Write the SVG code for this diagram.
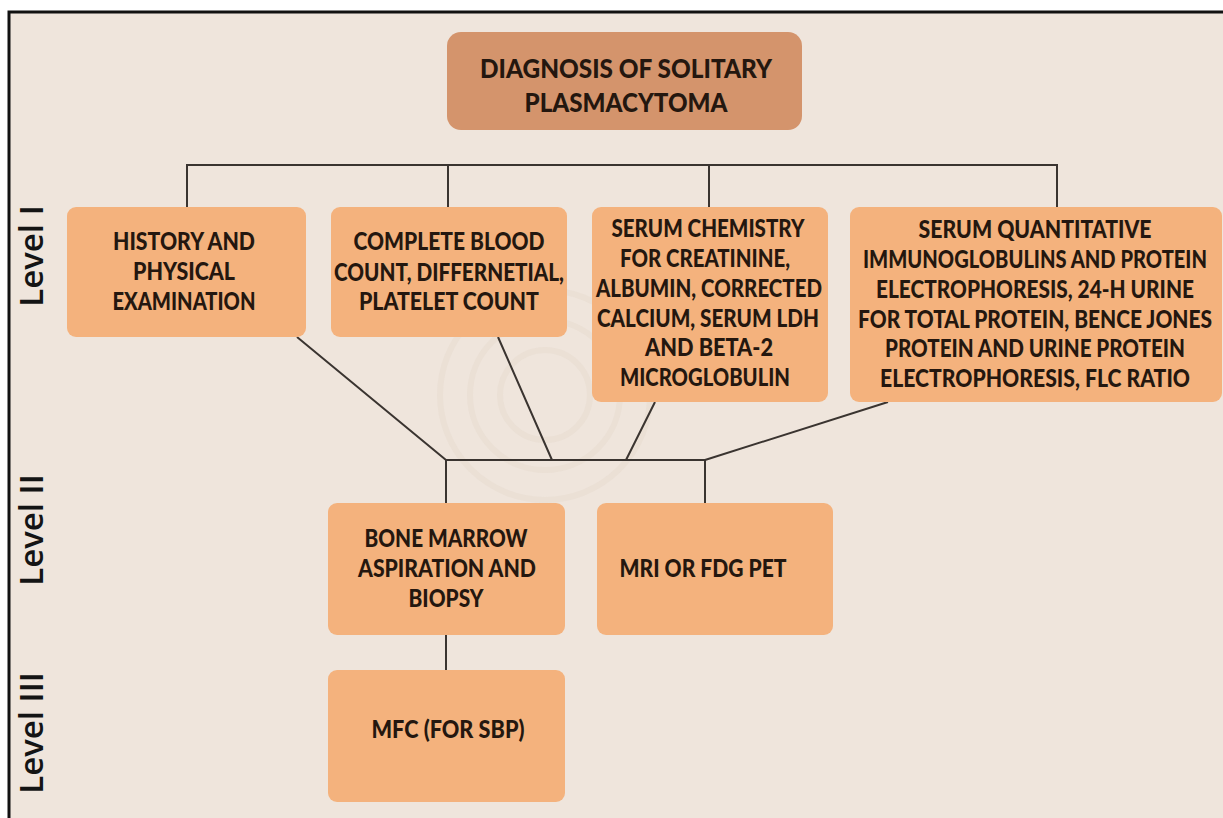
<svg xmlns="http://www.w3.org/2000/svg" width="1223" height="818" viewBox="0 0 1223 818">
<style>
.bg{fill:#efe5dc}
.box{fill:#f4b27d}
.title{fill:#d4946c}
.t{font-family:Lato,"Open Sans","Liberation Sans",sans-serif;font-weight:900;font-size:24px;fill:#24170f;text-anchor:middle}
.tt{font-size:26px}
.lvl{font-family:"Open Sans","Liberation Sans",sans-serif;font-weight:600;font-size:33px;fill:#141414;text-anchor:middle}
.c{stroke:#3a3430;stroke-width:2;fill:none}
.wm{fill:none;stroke:#e8dcd1;stroke-width:6;opacity:0.6}
</style>
<rect x="0" y="0" width="1223" height="818" fill="#ffffff"/>
<rect class="bg" x="9" y="12" width="1214" height="806"/>
<path d="M9 818 V12 H1223" stroke="#111" stroke-width="3" fill="none"/>
<g id="watermark">
<circle class="wm" cx="545" cy="395" r="45"/>
<circle class="wm" cx="545" cy="395" r="75"/>
<circle class="wm" cx="545" cy="395" r="105"/>
</g>
<g id="levels">
<text class="lvl" transform="translate(43,256) rotate(-90)">Level I</text>
<text class="lvl" transform="translate(43,530) rotate(-90)">Level II</text>
<text class="lvl" transform="translate(43,733) rotate(-90)">Level III</text>
</g>
<g id="connectors">
<path class="c" d="M187 207 V165 H1057 V207 M448 165 V207 M709 165 V207"/>
<path class="c" d="M297 337 L446 460 M498 337 L552 460 M655 402 L626 460 M888 402 L705 460"/>
<path class="c" d="M446 503 V460 H705 V503"/>
<path class="c" d="M446 635 V670"/>
</g>
<g id="n-title">
<rect class="title" x="447" y="32" width="355" height="98" rx="14"/>
<text class="t tt" x="626" y="78" textLength="292" lengthAdjust="spacingAndGlyphs">DIAGNOSIS OF SOLITARY</text>
<text class="t tt" x="626" y="112" textLength="203" lengthAdjust="spacingAndGlyphs">PLASMACYTOMA</text>
</g>
<g id="n-history">
<rect class="box" x="67" y="207" width="239" height="130" rx="9"/>
<text class="t" x="184" y="250" textLength="142" lengthAdjust="spacingAndGlyphs">HISTORY AND</text>
<text class="t" x="184" y="280" textLength="102" lengthAdjust="spacingAndGlyphs">PHYSICAL</text>
<text class="t" x="184" y="310" textLength="143" lengthAdjust="spacingAndGlyphs">EXAMINATION</text>
</g>
<g id="n-cbc">
<rect class="box" x="331" y="207" width="236" height="130" rx="9"/>
<text class="t" x="449" y="250" textLength="191" lengthAdjust="spacingAndGlyphs">COMPLETE BLOOD</text>
<text class="t" x="449" y="281" textLength="230" lengthAdjust="spacingAndGlyphs">COUNT, DIFFERNETIAL,</text>
<text class="t" x="449" y="310" textLength="180" lengthAdjust="spacingAndGlyphs">PLATELET COUNT</text>
</g>
<g id="n-chem">
<rect class="box" x="592" y="207" width="236" height="195" rx="9"/>
<text class="t" x="708" y="237" textLength="193" lengthAdjust="spacingAndGlyphs">SERUM CHEMISTRY</text>
<text class="t" x="705" y="267" textLength="170" lengthAdjust="spacingAndGlyphs">FOR CREATININE,</text>
<text class="t" x="709" y="297" textLength="226" lengthAdjust="spacingAndGlyphs">ALBUMIN, CORRECTED</text>
<text class="t" x="708" y="327" textLength="222" lengthAdjust="spacingAndGlyphs">CALCIUM, SERUM LDH</text>
<text class="t" x="709" y="356" textLength="128" lengthAdjust="spacingAndGlyphs">AND BETA-2</text>
<text class="t" x="705" y="386" textLength="170" lengthAdjust="spacingAndGlyphs">MICROGLOBULIN</text>
</g>
<g id="n-serum">
<rect class="box" x="850" y="207" width="372" height="195" rx="9"/>
<text class="t" x="1035" y="238" textLength="233" lengthAdjust="spacingAndGlyphs">SERUM QUANTITATIVE</text>
<text class="t" x="1035" y="268" textLength="344" lengthAdjust="spacingAndGlyphs">IMMUNOGLOBULINS AND PROTEIN</text>
<text class="t" x="1035" y="298" textLength="318" lengthAdjust="spacingAndGlyphs">ELECTROPHORESIS, 24-H URINE</text>
<text class="t" x="1035" y="328" textLength="354" lengthAdjust="spacingAndGlyphs">FOR TOTAL PROTEIN, BENCE JONES</text>
<text class="t" x="1035" y="357" textLength="300" lengthAdjust="spacingAndGlyphs">PROTEIN AND URINE PROTEIN</text>
<text class="t" x="1035" y="387" textLength="310" lengthAdjust="spacingAndGlyphs">ELECTROPHORESIS, FLC RATIO</text>
</g>
<g id="n-bone">
<rect class="box" x="328" y="503" width="237" height="132" rx="9"/>
<text class="t" x="446" y="547" textLength="163" lengthAdjust="spacingAndGlyphs">BONE MARROW</text>
<text class="t" x="447" y="577" textLength="178" lengthAdjust="spacingAndGlyphs">ASPIRATION AND</text>
<text class="t" x="446" y="607" textLength="75" lengthAdjust="spacingAndGlyphs">BIOPSY</text>
</g>
<g id="n-mri">
<rect class="box" x="597" y="503" width="236" height="132" rx="9"/>
<text class="t" x="703" y="577" textLength="167" lengthAdjust="spacingAndGlyphs">MRI OR FDG PET</text>
</g>
<g id="n-mfc">
<rect class="box" x="328" y="670" width="237" height="132" rx="9"/>
<text class="t" x="448" y="738" textLength="153" lengthAdjust="spacingAndGlyphs">MFC (FOR SBP)</text>
</g>
</svg>
